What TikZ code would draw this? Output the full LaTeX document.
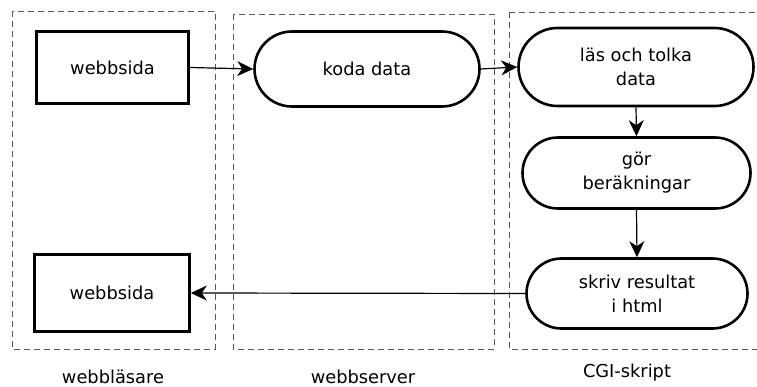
\documentclass[tikz,border=0pt]{standalone}
\usepackage{fontspec}
\setmainfont{DejaVu Sans}
\usetikzlibrary{shapes.misc,arrows.meta}
\begin{document}
\begin{tikzpicture}[x=1pt,y=-1pt,
  every node/.style={font=\fontsize{17.8}{24}\selectfont, align=center},
  container/.style={draw=black!65, line width=0.9pt, dash pattern=on 6pt off 4pt},
  pagebox/.style={draw, line width=2.6pt, minimum width=#1-3pt, minimum height=72pt, inner sep=0pt},
  pill/.style={draw, rounded rectangle, line width=2.6pt, inner sep=0pt},
  conn/.style={line width=1.2pt, -{Stealth[length=16pt,width=15pt,inset=5pt]}},
  caption/.style={anchor=base, inner sep=0pt}
]
\useasboundingbox (0,0) rectangle (757,387);
\draw[container] (12,11) rectangle (215,349);
\draw[container] (233,14) rectangle (494,349);
\draw[container] (509,12) rectangle (775,349);

\node[pagebox=155pt] (w1) at (112.5,67.5) {webbsida};
\node[pagebox=158pt, minimum height=77pt] (w2) at (112,293) {webbsida};
\node[pill, minimum width=225pt, minimum height=75pt] (koda) at (367,69) {koda data};
\node[pill, minimum width=235pt, minimum height=78pt] (las) at (636,67) {läs och tolka\\data};
\node[pill, minimum width=228pt, minimum height=71pt] (gor) at (636.5,173) {gör\\beräkningar};
\node[pill, minimum width=221pt, minimum height=70pt] (skriv) at (637,293.5) {skriv resultat\\i html};

\draw[conn] (w1.east) -- (koda.west);
\draw[conn] (koda.east) -- (las.west);
\draw[conn] (las.south) -- (gor.north);
\draw[conn] (gor.south) -- (skriv.north);
\draw[conn] (skriv.west) -- (w2.east);

\node[caption] (l1) at (113,383) {webbläsare};
\node[caption] (l2) at (363,383) {webbserver};
\node[caption] (l3) at (627,377) {CGI-skript};
\end{tikzpicture}
\end{document}
